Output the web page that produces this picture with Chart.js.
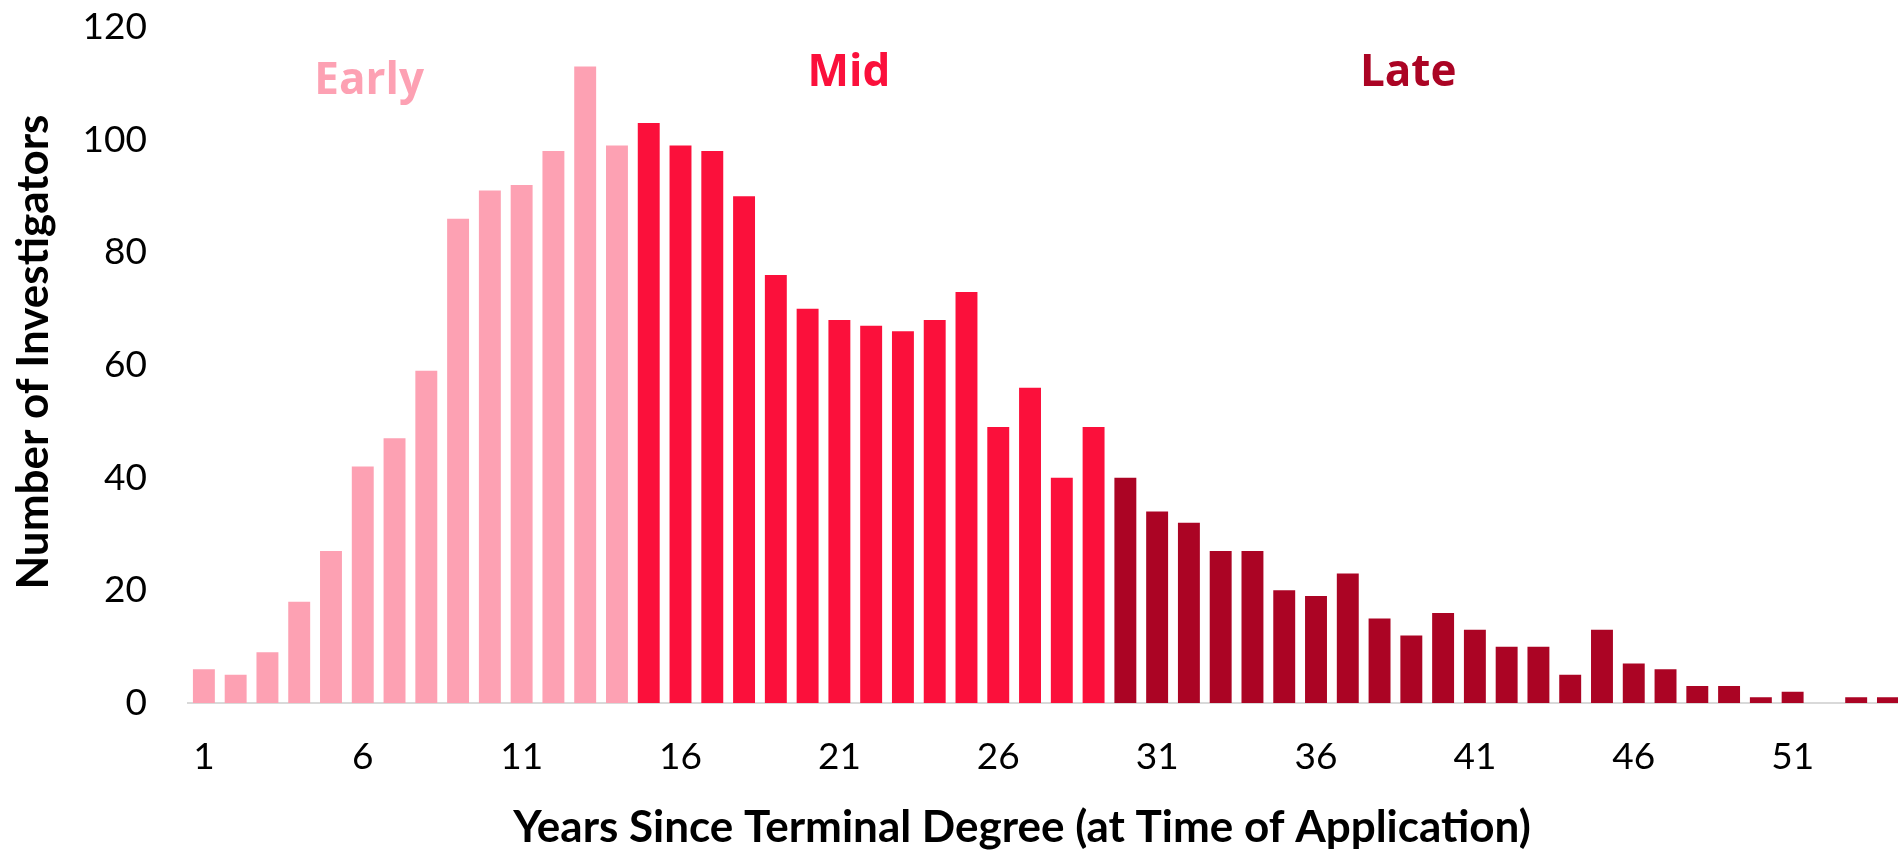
<!DOCTYPE html>
<html>
<head>
<meta charset="utf-8">
<script src="https://cdn.jsdelivr.net/npm/chart.js@4.4.0/dist/chart.umd.min.js"></script>
<style>
  html, body { margin: 0; padding: 0; overflow: hidden; background: #fff; }
  #wrap { width: 1898px; height: 852px; position: relative; overflow: hidden; }
  #careerChart { position: absolute; left: 0; top: -36px; }
</style>
</head>
<body>
<div id="wrap"><canvas id="careerChart" width="1920" height="888"></canvas></div>
<script>
// --- data ---
const years = ['1','2','3','4','5','6','7','8','9','10',
  '11','12','13','14','15','16','17','18','19','20',
  '21','22','23','24','25','26','27','28','29','30',
  '31','32','33','34','35','36','37','38','39','40',
  '41','42','43','44','45','46','47','48','49','50',
  '51','52','53','54'];

const investigators = [6, 5, 9, 18, 27, 42, 47, 59, 86, 91,
  92, 98, 113, 99, 103, 99, 98, 90, 76, 70,
  68, 67, 66, 68, 73, 49, 56, 40, 49, 40,
  34, 32, 27, 27, 20, 19, 23, 15, 12, 16,
  13, 10, 10, 5, 13, 7, 6, 3, 3, 1,
  2, 0, 1, 1];

const xTickLabels = ['1', '6', '11', '16', '21', '26', '31', '36', '41', '46', '51'];
const yTicks = [0, 20, 40, 60, 80, 100, 120];

// career phases: name and first year of each
const phaseNames = ['Early', 'Mid', 'Late'];
const phaseFirstYear = [1, 15, 30];
const phaseColors = ['#FDA1B3', '#FB103B', '#AB0424'];

function phaseOf(year) {
  let p = 0;
  phaseFirstYear.forEach((start, i) => { if (year >= start) p = i; });
  return p;
}

const barColors = years.map(y => phaseColors[phaseOf(Number(y))]);

// where the phase names sit (in axis units)
const phaseLabelPos = [
  { x: 5.2, y: 108.2 },
  { x: 20.3, y: 109.5 },
  { x: 37.9, y: 109.5 }
];

// titles and phase names drawn on top of the chart
const textPlugin = {
  id: 'textPlugin',
  afterDraw(chart) {
    const ctx = chart.ctx;
    const area = chart.chartArea;
    const xs = chart.scales.x;
    const ys = chart.scales.y;
    ctx.save();
    ctx.textAlign = 'center';
    ctx.textBaseline = 'alphabetic';

    ctx.font = 'bold 44px "Open Sans"';
    phaseNames.forEach((name, i) => {
      ctx.fillStyle = phaseColors[i];
      ctx.fillText(name, xs.getPixelForValue(phaseLabelPos[i].x), ys.getPixelForValue(phaseLabelPos[i].y));
    });

    ctx.fillStyle = '#000';
    ctx.font = 'bold 44px Lato';
    ctx.fillText('Years Since Terminal Degree (at Time of Application)', area.left + 834, area.bottom + 139);

    ctx.translate(48, (area.top + area.bottom) / 2 - 13);
    ctx.rotate(-Math.PI / 2);
    ctx.fillText('Number of Investigators', 0, 0);
    ctx.restore();
  }
};

const ctx = document.getElementById('careerChart');

new Chart(ctx, {
  type: 'bar',
  data: {
    labels: years,
    datasets: [{
      data: investigators,
      backgroundColor: barColors,
      borderWidth: 0,
      barPercentage: 0.69,
      categoryPercentage: 1.0
    }]
  },
  options: {
    responsive: false,
    animation: false,
    layout: { padding: { left: 0, right: 5, top: 27, bottom: 0 } },
    plugins: {
      legend: { display: false },
      tooltip: { enabled: false }
    },
    scales: {
      x: {
        grid: { display: false, drawTicks: false },
        border: { display: true, color: '#D9D9D9', width: 2 },
        ticks: {
          autoSkip: false,
          maxRotation: 0,
          color: '#000',
          font: { family: 'Lato', size: 37 },
          padding: 32,
          callback: function(value, index) {
            const lbl = this.getLabelForValue(index);
            return xTickLabels.includes(lbl) ? lbl : '';
          }
        },
        afterFit: (scale) => { scale.height = 149; }
      },
      y: {
        min: 0,
        max: 120,
        grid: { display: false, drawTicks: false },
        border: { display: false },
        afterBuildTicks: (scale) => { scale.ticks = yTicks.map(v => ({ value: v })); },
        ticks: {
          color: '#000',
          font: { family: 'Lato', size: 37 },
          padding: 41
        },
        afterFit: (scale) => { scale.width = 188; }
      }
    }
  },
  plugins: [textPlugin]
});
</script>
</body>
</html>
